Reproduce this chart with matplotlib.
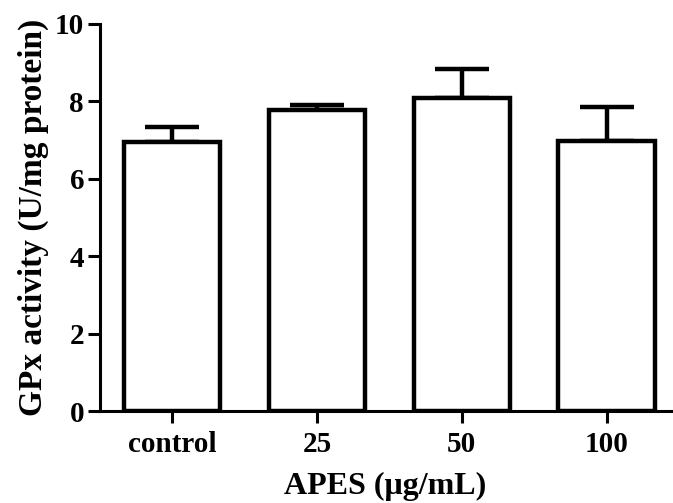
import matplotlib
matplotlib.use("Agg")
import matplotlib.pyplot as plt

categories = ["control", "25", "50", "100"]
gpx_mean = [6.96, 7.78, 8.10, 6.98]
gpx_err = [0.39, 0.13, 0.73, 0.87]
yticks = [0, 2, 4, 6, 8, 10]

plt.rcParams["font.family"] = ["Liberation Serif", "DejaVu Serif"]
plt.rcParams["font.weight"] = "bold"

fig = plt.figure(figsize=(6.73, 5.03), dpi=100)
ax = fig.add_axes([0.1486, 0.1829, 0.8484, 0.7694])

x = list(range(len(categories)))
ax.bar(x, gpx_mean, width=0.664, color="white", edgecolor="black",
       linewidth=3.2, zorder=2)
ax.errorbar(x, gpx_mean, yerr=[[0] * len(gpx_err), gpx_err], fmt="none",
            ecolor="black", elinewidth=3.2, capsize=19.5, capthick=3.2,
            zorder=1)

ax.set_xlim(-0.4976, 3.445)
ax.set_ylim(0, 10)
ax.set_yticks(yticks)
ax.set_yticklabels([str(t) for t in yticks])
ax.set_xticks(x)
ax.set_xticklabels(categories)

for side in ("top", "right"):
    ax.spines[side].set_visible(False)
for side in ("left", "bottom"):
    ax.spines[side].set_linewidth(2.2)
ax.tick_params(axis="both", direction="out", length=8.5, width=2.2,
               labelsize=21, pad=3)
ax.tick_params(axis="x", pad=6)
for lab in ax.get_xticklabels() + ax.get_yticklabels():
    lab.set_fontweight("bold")

ax.set_ylabel("GPx activity (U/mg protein)", fontsize=24, fontweight="bold",
              labelpad=4)
ax.set_xlabel("APES (\u03bcg/mL)", fontsize=23, fontweight="bold", labelpad=10)

fig.savefig("out.png", dpi=100)
